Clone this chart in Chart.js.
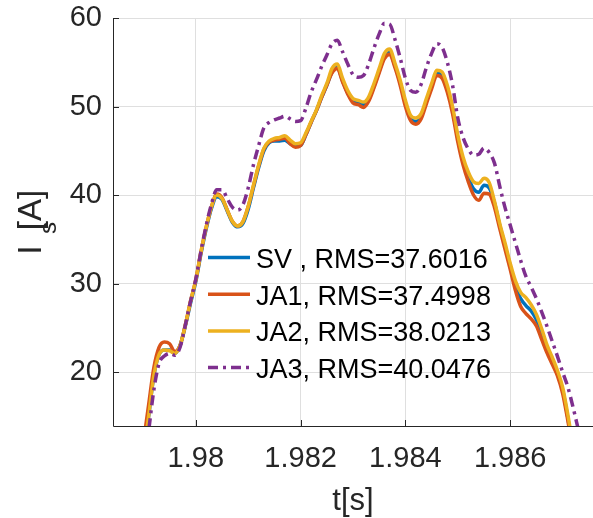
<!DOCTYPE html>
<html>
<head>
<meta charset="utf-8">
<script src="https://cdn.jsdelivr.net/npm/chart.js@4.4.1/dist/chart.umd.min.js"></script>
<style>
  html, body { margin: 0; padding: 0; background: #fff; }
  canvas { display: block; }
</style>
</head>
<body>
<canvas id="chart" width="593" height="518"></canvas>
<script>
// time samples [s]
const time = [
  1.9790, 1.9791, 1.9792, 1.9793, 1.9794, 1.9795, 1.9796, 1.9797, 1.9798, 1.9799,
  1.9800, 1.9801, 1.9802, 1.9803, 1.9804, 1.9805, 1.9806, 1.9807, 1.9808, 1.9809,
  1.9810, 1.9811, 1.9812, 1.9813, 1.9814, 1.9815, 1.9816, 1.9817, 1.9818, 1.9819,
  1.9820, 1.9821, 1.9822, 1.9823, 1.9824, 1.9825, 1.9826, 1.9827, 1.9828, 1.9829,
  1.9830, 1.9831, 1.9832, 1.9833, 1.9834, 1.9835, 1.9836, 1.9837, 1.9838, 1.9839,
  1.9840, 1.9841, 1.9842, 1.9843, 1.9844, 1.9845, 1.9846, 1.9847, 1.9848, 1.9849,
  1.9850, 1.9851, 1.9852, 1.9853, 1.9854, 1.9855, 1.9856, 1.9857, 1.9858, 1.9859,
  1.9860, 1.9861, 1.9862, 1.9863, 1.9864, 1.9865, 1.9866, 1.9867, 1.9868, 1.9869,
  1.9870, 1.9871, 1.9872, 1.9873
];

// stator current Is [A]
const sv = [
  10.8, 15.0, 19.6, 22.0, 22.5, 22.5, 22.1, 23.0, 25.2, 27.8,
  30.2, 33.4, 36.2, 38.5, 39.8, 39.5, 38.2, 36.9, 36.4, 36.8,
  38.4, 40.8, 43.1, 45.0, 45.9, 46.1, 46.1, 46.2, 45.8, 45.5,
  45.6, 46.8, 48.2, 49.5, 51.0, 52.4, 53.9, 54.4, 52.9, 51.5,
  50.6, 50.4, 50.2, 50.8, 52.3, 54.0, 55.6, 56.1, 54.6, 52.7,
  50.4, 48.7, 48.3, 48.9, 50.6, 52.3, 53.8, 53.6, 52.0, 49.6,
  46.4, 43.8, 42.0, 40.7, 40.3, 41.1, 40.8, 39.1, 36.6, 34.3,
  32.0, 29.6, 28.3, 27.5, 26.9, 25.9, 24.3, 22.7, 21.3, 19.9,
  18.0, 14.8, 11.3, 7.5
];
const ja1 = [
  12.0, 16.3, 20.5, 22.8, 23.4, 23.2, 22.3, 23.0, 25.3, 28.0,
  30.4, 33.6, 36.4, 38.7, 40.1, 39.7, 38.3, 37.0, 36.5, 37.0,
  38.7, 41.0, 43.3, 45.2, 46.0, 46.2, 46.3, 46.4, 45.8, 45.4,
  45.6, 46.8, 48.2, 49.5, 51.0, 52.4, 53.8, 54.3, 52.8, 51.4,
  50.4, 50.2, 49.9, 50.6, 52.1, 53.8, 55.4, 55.9, 54.4, 52.4,
  50.0, 48.4, 48.0, 48.6, 50.3, 52.0, 53.5, 53.2, 51.6, 49.2,
  46.0, 43.4, 41.5, 40.0, 39.4, 40.2, 40.1, 38.6, 36.2, 33.9,
  31.6, 29.2, 27.4, 26.6, 26.0, 25.2, 23.7, 22.2, 20.9, 19.6,
  17.6, 14.5, 11.0, 7.0
];
const ja2 = [
  10.5, 15.0, 19.6, 22.0, 22.5, 22.4, 22.1, 23.0, 25.3, 28.0,
  30.4, 33.6, 36.4, 38.7, 40.0, 39.6, 38.3, 37.0, 36.5, 37.0,
  38.7, 41.1, 43.4, 45.3, 46.1, 46.4, 46.5, 46.7, 46.2, 45.8,
  45.9, 47.0, 48.3, 49.6, 51.2, 52.6, 54.3, 54.8, 53.2, 51.8,
  50.9, 50.7, 50.5, 51.1, 52.6, 54.3, 56.0, 56.5, 54.9, 53.0,
  50.7, 49.0, 48.7, 49.2, 50.9, 52.6, 54.1, 53.9, 52.4, 50.0,
  46.8, 44.3, 42.6, 41.5, 41.3, 41.9, 41.4, 39.3, 36.8, 34.6,
  32.3, 30.3, 29.0, 28.4, 27.6, 26.5, 24.9, 23.1, 21.7, 20.2,
  18.3, 15.2, 11.5, 7.8
];
const ja3 = [
  8.5, 13.3, 18.0, 21.0, 21.8, 22.1, 21.9, 22.8, 25.3, 28.0,
  30.5, 33.7, 36.6, 39.0, 40.6, 40.6, 39.6, 38.6, 38.3, 38.9,
  40.8, 43.4, 45.6, 47.6, 48.2, 48.5, 48.7, 48.9, 48.6, 48.3,
  48.4, 49.8, 51.6, 53.0, 54.5, 55.8, 57.1, 57.5, 56.2, 54.8,
  53.6, 53.3, 53.5, 54.8, 56.6, 58.2, 59.4, 59.3, 57.6, 55.5,
  53.2, 51.8, 51.6, 52.5, 54.4, 56.0, 57.1, 56.7, 55.0, 52.4,
  48.7, 46.5, 45.2, 44.5, 44.6, 45.3, 44.8, 43.6, 41.0, 38.6,
  36.6, 34.6, 32.6, 30.8, 29.6, 28.3, 26.8, 25.2, 23.5, 21.8,
  20.0, 18.3, 16.0, 13.5
];

const labels = ['SV , RMS=37.6016', 'JA1, RMS=37.4998', 'JA2, RMS=38.0213', 'JA3, RMS=40.0476'];
const xTicks = [1.980, 1.982, 1.984, 1.986];
const yTicks = [20, 30, 40, 50, 60];

const FONT = '"Liberation Sans", Arial, Helvetica, sans-serif';
const INK = '#262626';

const toPts = arr => arr.map((v, i) => ({ x: time[i], y: v }));

function line(label, values, color, order, dash) {
  return {
    label: label,
    data: toPts(values),
    borderColor: color,
    backgroundColor: color,
    borderWidth: 3.5,
    borderDash: dash || [],
    borderCapStyle: 'butt',
    pointRadius: 0,
    cubicInterpolationMode: 'monotone',
    clip: 0,
    order: order
  };
}

// axis lines, inward ticks, legend and axis titles, MATLAB style
const matlabAxes = {
  id: 'matlabAxes',
  afterDatasetsDraw(chart) {
    const ctx = chart.ctx;
    const a = chart.chartArea;
    const x = chart.scales.x, y = chart.scales.y;
    ctx.save();

    ctx.strokeStyle = INK;
    ctx.lineWidth = 1;
    ctx.setLineDash([]);
    ctx.beginPath();
    ctx.moveTo(a.left + 0.5, a.top);
    ctx.lineTo(a.left + 0.5, a.bottom + 0.5);
    ctx.lineTo(a.right, a.bottom + 0.5);
    yTicks.forEach(v => {
      const p = Math.round(y.getPixelForValue(v)) + 0.5;
      ctx.moveTo(a.left, p);
      ctx.lineTo(a.left + 6, p);
    });
    xTicks.forEach(v => {
      const p = Math.round(x.getPixelForValue(v)) + 0.5;
      ctx.moveTo(p, a.bottom);
      ctx.lineTo(p, a.bottom - 6);
    });
    ctx.stroke();

    // legend (no box)
    ctx.font = '27px ' + FONT;
    ctx.textAlign = 'left';
    ctx.textBaseline = 'alphabetic';
    chart.data.datasets.forEach((ds, i) => {
      const base = 268 + i * 36.7;
      const ly = base - 10.5;
      ctx.strokeStyle = ds.borderColor;
      ctx.lineWidth = 3.5;
      ctx.lineCap = 'butt';
      ctx.setLineDash(ds.borderDash);
      ctx.beginPath();
      ctx.moveTo(208, ly);
      ctx.lineTo(250, ly);
      ctx.stroke();
      ctx.fillStyle = '#000';
      ctx.fillText(ds.label, 256, base);
    });
    ctx.setLineDash([]);

    // x title
    ctx.fillStyle = INK;
    ctx.font = '31px ' + FONT;
    ctx.textAlign = 'center';
    ctx.fillText('t[s]', (a.left + a.right) / 2, 510);

    // y title I_s[A], rotated
    ctx.translate(41, 221);
    ctx.rotate(-Math.PI / 2);
    ctx.font = '34px ' + FONT;
    ctx.fillText('I', -29, 0);
    ctx.font = '24px ' + FONT;
    ctx.fillText('s', -7, 15);
    ctx.font = '33px ' + FONT;
    ctx.fillText('[A]', 11, 0);

    ctx.restore();
  }
};

new Chart(document.getElementById('chart'), {
  type: 'line',
  data: {
    datasets: [
      line(labels[0], sv, '#0072BD', 4),
      line(labels[1], ja1, '#D95319', 3),
      line(labels[2], ja2, '#EDB120', 2),
      line(labels[3], ja3, '#7E2F8E', 1, [10, 5, 3, 5])
    ]
  },
  options: {
    responsive: false,
    animation: false,
    events: [],
    layout: { padding: { top: 18, right: 0, left: 0, bottom: 0 } },
    plugins: { legend: { display: false }, tooltip: { enabled: false } },
    scales: {
      x: {
        type: 'linear',
        min: 1.97842,
        max: 1.98758,
        afterBuildTicks: s => { s.ticks = xTicks.map(v => ({ value: v })); },
        afterFit: s => { s.height = 92; s.paddingLeft = 0; s.paddingRight = 0; },
        grid: { color: '#dfdfdf', lineWidth: 1, drawTicks: false },
        border: { display: false },
        ticks: {
          color: INK,
          font: { family: FONT, size: 29 },
          padding: 16,
          maxRotation: 0,
          callback: v => String(Number(v.toFixed(3)))
        }
      },
      y: {
        type: 'linear',
        min: 13.9,
        max: 60,
        afterBuildTicks: s => { s.ticks = yTicks.map(v => ({ value: v })); },
        afterFit: s => { s.width = 113; s.paddingTop = 0; s.paddingBottom = 0; },
        grid: { color: '#dfdfdf', lineWidth: 1, drawTicks: false },
        border: { display: false },
        ticks: {
          color: INK,
          font: { family: FONT, size: 29 },
          padding: 11
        }
      }
    }
  },
  plugins: [matlabAxes]
});
</script>
</body>
</html>
